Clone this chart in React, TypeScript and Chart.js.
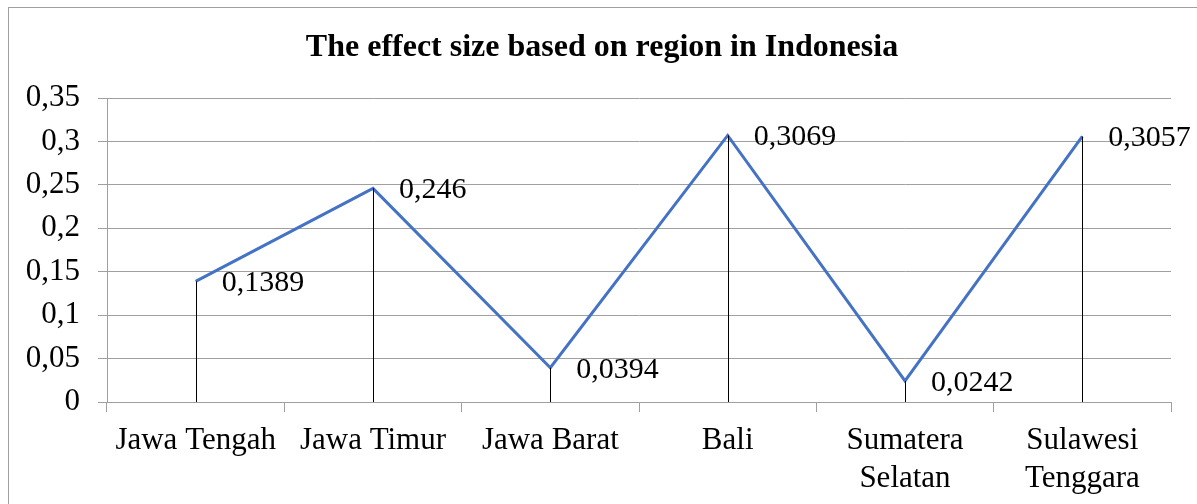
import React, { useEffect, useRef } from "react";
import { Chart, registerables } from "chart.js";

Chart.register(...registerables);

const categories: (string | string[])[] = [
  "Jawa Tengah",
  "Jawa Timur",
  "Jawa Barat",
  "Bali",
  ["Sumatera", "Selatan"],
  ["Sulawesi", "Tenggara"],
];
const effectSizes: number[] = [0.1389, 0.246, 0.0394, 0.3069, 0.0242, 0.3057];
const valueLabels: string[] = ["0,1389", "0,246", "0,0394", "0,3069", "0,0242", "0,3057"];
const chartTitle = "The effect size based on region in Indonesia";

const SERIF = "'Liberation Serif', 'Times New Roman', serif";

const titleAndLabels = {
  id: "titleAndLabels",
  afterDraw(chart: any) {
    const ctx = chart.ctx;
    ctx.save();
    ctx.font = `bold 32px ${SERIF}`;
    ctx.fillStyle = "#000000";
    ctx.textAlign = "center";
    ctx.textBaseline = "middle";
    ctx.fillText(chartTitle, 602, 48);
    ctx.restore();
  },
  afterDatasetsDraw(chart: any) {
    const meta = chart.getDatasetMeta(0);
    const yScale = chart.scales.y;
    const ctx = chart.ctx;
    ctx.save();
    meta.data.forEach((pt: any, i: number) => {
      ctx.beginPath();
      ctx.strokeStyle = "#000000";
      ctx.lineWidth = 1;
      const x = Math.round(pt.x) + 0.5;
      ctx.moveTo(x, pt.y);
      ctx.lineTo(x, yScale.getPixelForValue(0));
      ctx.stroke();
      ctx.font = `30px ${SERIF}`;
      ctx.fillStyle = "#000000";
      ctx.textAlign = "left";
      ctx.textBaseline = "middle";
      ctx.fillText(valueLabels[i], pt.x + 26, pt.y + 2);
    });
    ctx.restore();
  },
};

export default function App() {
  const canvasRef = useRef<HTMLCanvasElement | null>(null);

  useEffect(() => {
    if (!canvasRef.current) return;
    const chart = new Chart(canvasRef.current, {
      type: "line",
      data: {
        labels: categories,
        datasets: [
          {
            data: effectSizes,
            borderColor: "#4472C4",
            borderWidth: 3,
            pointRadius: 0,
            tension: 0,
            fill: false,
          },
        ],
      },
      options: {
        animation: false,
        responsive: false,
        maintainAspectRatio: false,
        layout: { padding: { left: 0, right: 26, top: 98, bottom: 0 } },
        plugins: {
          legend: { display: false },
          tooltip: { enabled: false },
          title: { display: false },
        },
        scales: {
          x: {
            type: "category",
            offset: true,
            grid: {
              offset: true,
              drawOnChartArea: false,
              drawTicks: true,
              tickLength: 10,
              color: "#a0a0a0",
            },
            border: { display: true, color: "#a0a0a0" },
            ticks: {
              autoSkip: false,
              maxRotation: 0,
              minRotation: 0,
              padding: 10,
              color: "#000000",
              font: { family: SERIF, size: 31, lineHeight: 1.22 },
            },
            afterFit: (scale: any) => {
              scale.height = 102;
            },
          },
          y: {
            min: 0,
            max: 0.35,
            ticks: {
              stepSize: 0.05,
              padding: 18,
              color: "#000000",
              font: { family: SERIF, size: 31 },
              callback: (v: any) => Number(Number(v).toFixed(2)).toString().replace(".", ","),
            },
            grid: {
              color: "#a0a0a0",
              drawTicks: true,
              tickLength: 9,
            },
            border: { display: true, color: "#a0a0a0" },
            afterFit: (scale: any) => {
              scale.width = 107;
            },
          },
        },
      },
      plugins: [titleAndLabels],
    });
    return () => chart.destroy();
  }, []);

  return (
    <div style={{ position: "absolute", left: 0, top: 0, width: 1197, height: 504, overflow: "hidden", background: "#ffffff" }}>
      <div
        style={{
          position: "absolute",
          left: 8,
          top: 7,
          width: 1200,
          height: 520,
          border: "1px solid #a0a0a0",
          boxSizing: "border-box",
        }}
      />
      <canvas ref={canvasRef} width={1197} height={504} style={{ position: "absolute", left: 0, top: 0 }} />
    </div>
  );
}
